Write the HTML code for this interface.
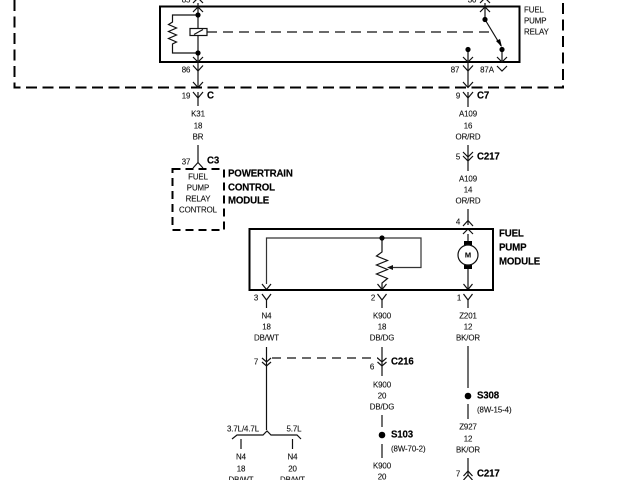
<!DOCTYPE html>
<html><head><meta charset="utf-8"><style>
html,body{margin:0;padding:0;background:#fff;width:640px;height:480px;overflow:hidden}
svg{display:block;filter:blur(.35px)}
text{font-family:"Liberation Sans",sans-serif;font-size:7.9px;fill:#111;stroke:#111;stroke-width:.12;letter-spacing:-.1px;dominant-baseline:central}
.m{text-anchor:middle}
.b{font-weight:bold;font-size:9.7px;fill:#000;stroke:#000;stroke-width:.15;letter-spacing:-.15px}
.w{fill:none;stroke:#111;stroke-width:1.2}
</style></head><body>
<svg width="640" height="480" viewBox="0 0 640 480" xmlns="http://www.w3.org/2000/svg">
<rect width="640" height="480" fill="#fff"/>
<!-- outer dashed -->
<path d="M14.5 0V87.5H563V0" fill="none" stroke="#000" stroke-width="2" stroke-dasharray="11 5.5"/>
<!-- relay -->
<rect x="160" y="6.5" width="359.5" height="55.5" fill="none" stroke="#000" stroke-width="2"/>
<g class="w">
<path d="M198 3V88M198 92V106"/>
<path d="M198 15H172.500V22L168.500 24.500L176.500 28L168.500 31.500L176.500 35L168.500 38.500L176.500 42L172.500 44V53H198"/>
<rect x="190" y="28.500" width="17" height="7" fill="#fff"/>
<path d="M194 34.500L203 29.500"/>
<path d="M207 32H490" stroke-dasharray="10 6"/>
<path d="M485 3V19.500L501 46"/>
<path d="M502 49.500V62"/>
<path d="M468 49.500V87M468 92V107"/>
<!-- relay chevrons -->
<path d="M193 12L198 7L203 12M193 57L198 62L203 57M193 65.500L198 71L203 65.500M193 82L198 87.500L203 82M193 92L198 98L203 92"/>
<path d="M480 12L485 7L490 12M463 57L468 62L473 57M497 57L502 62L507 57M463 65.500L468 71L473 65.500M497 66L502 71L507 66M463 82L468 87.500L473 82M463 92L468 98L473 92"/>
<path d="M193 3L198 -2L203 3M480 3L485 -2L490 3"/>
<!-- K31 to C3 -->
<path d="M198 145V163M193 168L198 162.500L203 168"/>
<path d="M172.500 169H224V230H172.500Z" stroke-width="2" stroke="#000" stroke-dasharray="8 5"/>
<!-- A109 -->
<path d="M468 145V171M463 152L468 157L473 152M463 156L468 161L473 156"/>
<path d="M468 209V225M463 226L468 220.500L473 226M463 234L468 229L473 234"/>
<!-- module inner -->
<path d="M266.500 284V238H421V267.500H390" stroke="#333"/>
<path d="M382 238V252L376.500 256L387.500 260.500L376.500 265L387.500 269.500L376.500 274L387.500 278.500L382 283V290"/>
<path d="M468 234V290"/>
<!-- module chevrons and below -->
<path d="M262 284L266.500 289.500L271 284M377.500 284L382 289.500L386.500 284M463.500 284L468 289.500L472.500 284"/>
<path d="M262 294L266.500 300L271 294M377.500 294L382 300L386.500 294M463.500 294L468 300L472.500 294"/>
<path d="M266.500 300V308M382 300V308M468 300V308"/>
<!-- C216 -->
<path d="M266.500 347V430M382 347V376"/>
<path d="M262 358L266.500 362L271 358M262 362L266.500 366L271 362M377.500 358L382 362L386.500 358M377.500 362L382 366L386.500 362"/>
<path d="M272 358H378" stroke-dasharray="9 6"/>
<path d="M232 439L237 435H263L267 431L271 435H297L301 439"/>
<path d="M241 439V449M292.500 439V449"/>
<path d="M382 415V427M382 444V458"/>
<path d="M468 346V388M468 404V419M468 458V476"/>
<path d="M463.500 476L468 471L472.500 476M463.500 480L468 475L472.500 480"/>
</g>
<rect x="249.500" y="229" width="243.500" height="61" fill="none" stroke="#000" stroke-width="2"/>
<path d="M387 267.500L393 265V270Z" fill="#111"/>
<circle cx="198" cy="15" r="2.600" fill="#000"/><circle cx="198" cy="53" r="2.600" fill="#000"/>
<circle cx="485" cy="19.500" r="2.600" fill="#000"/><circle cx="502" cy="49.500" r="2.600" fill="#000"/><circle cx="468" cy="49.500" r="2.600" fill="#000"/>
<path d="M502 47L496 41L500 39Z" fill="#000"/>
<circle cx="382" cy="238" r="2.600" fill="#000"/>
<circle cx="382" cy="435" r="3.300" fill="#000"/><circle cx="468" cy="396" r="3.300" fill="#000"/>
<!-- motor -->
<rect x="464" y="241" width="8" height="4" fill="#000"/><rect x="464" y="265" width="8" height="4" fill="#000"/>
<circle cx="468" cy="255" r="10" fill="#fff" stroke="#111" stroke-width="1.2"/>
<text x="468" y="255" class="m" style="font-size:7.5px;font-weight:bold">M</text>
<!-- labels -->
<text x="186" y="0" class="m">85</text><text x="472" y="0" class="m">30</text>
<text x="524" y="10">FUEL</text><text x="524" y="21">PUMP</text><text x="524" y="32">RELAY</text>
<text x="186" y="70" class="m">86</text><text x="455" y="70" class="m">87</text><text x="487" y="70" class="m">87A</text>
<text x="186" y="96" class="m">19</text><text x="207" y="96" class="b">C</text>
<text x="458" y="96" class="m">9</text><text x="477" y="96" class="b">C7</text>
<text x="198" y="114" class="m">K31</text><text x="198" y="126" class="m">18</text><text x="198" y="137" class="m">BR</text>
<text x="468" y="114" class="m">A109</text><text x="468" y="126" class="m">16</text><text x="468" y="137" class="m">OR/RD</text>
<text x="458" y="157" class="m">5</text><text x="477" y="157" class="b">C217</text>
<text x="468" y="179" class="m">A109</text><text x="468" y="190" class="m">14</text><text x="468" y="201" class="m">OR/RD</text>
<text x="186" y="162" class="m">37</text><text x="207" y="161" class="b">C3</text>
<text x="198" y="177" class="m">FUEL</text><text x="198" y="188" class="m">PUMP</text><text x="198" y="199" class="m">RELAY</text><text x="198" y="210" class="m">CONTROL</text>
<text x="228" y="174" class="b">POWERTRAIN</text><text x="228" y="188" class="b">CONTROL</text><text x="228" y="201" class="b">MODULE</text>
<text x="458" y="222" class="m">4</text>
<text x="499" y="234" class="b">FUEL</text><text x="499" y="248" class="b">PUMP</text><text x="499" y="262" class="b">MODULE</text>
<text x="256" y="298" class="m">3</text><text x="373" y="298" class="m">2</text><text x="459" y="298" class="m">1</text>
<text x="266.500" y="316" class="m">N4</text><text x="266.500" y="327" class="m">18</text><text x="266.500" y="338" class="m">DB/WT</text>
<text x="382" y="316" class="m">K900</text><text x="382" y="327" class="m">18</text><text x="382" y="338" class="m">DB/DG</text>
<text x="468" y="316" class="m">Z201</text><text x="468" y="327" class="m">12</text><text x="468" y="338" class="m">BK/OR</text>
<text x="256" y="362" class="m">7</text><text x="372" y="367" class="m">6</text><text x="391" y="362" class="b">C216</text>
<text x="382" y="385" class="m">K900</text><text x="382" y="396" class="m">20</text><text x="382" y="407" class="m">DB/DG</text>
<text x="477" y="396" class="b">S308</text><text x="477" y="410">(8W-15-4)</text>
<text x="468" y="427" class="m">Z927</text><text x="468" y="439" class="m">12</text><text x="468" y="450" class="m">BK/OR</text>
<text x="243" y="429" class="m">3.7L/4.7L</text><text x="294" y="429" class="m">5.7L</text>
<text x="391" y="435" class="b">S103</text><text x="391" y="449">(8W-70-2)</text>
<text x="241" y="457" class="m">N4</text><text x="241" y="469" class="m">18</text><text x="241" y="480" class="m">DB/WT</text>
<text x="292.500" y="457" class="m">N4</text><text x="292.500" y="469" class="m">20</text><text x="292.500" y="480" class="m">DB/WT</text>
<text x="382" y="466" class="m">K900</text><text x="382" y="477" class="m">20</text>
<text x="458" y="474" class="m">7</text><text x="477" y="474" class="b">C217</text>
</svg>
</body></html>
